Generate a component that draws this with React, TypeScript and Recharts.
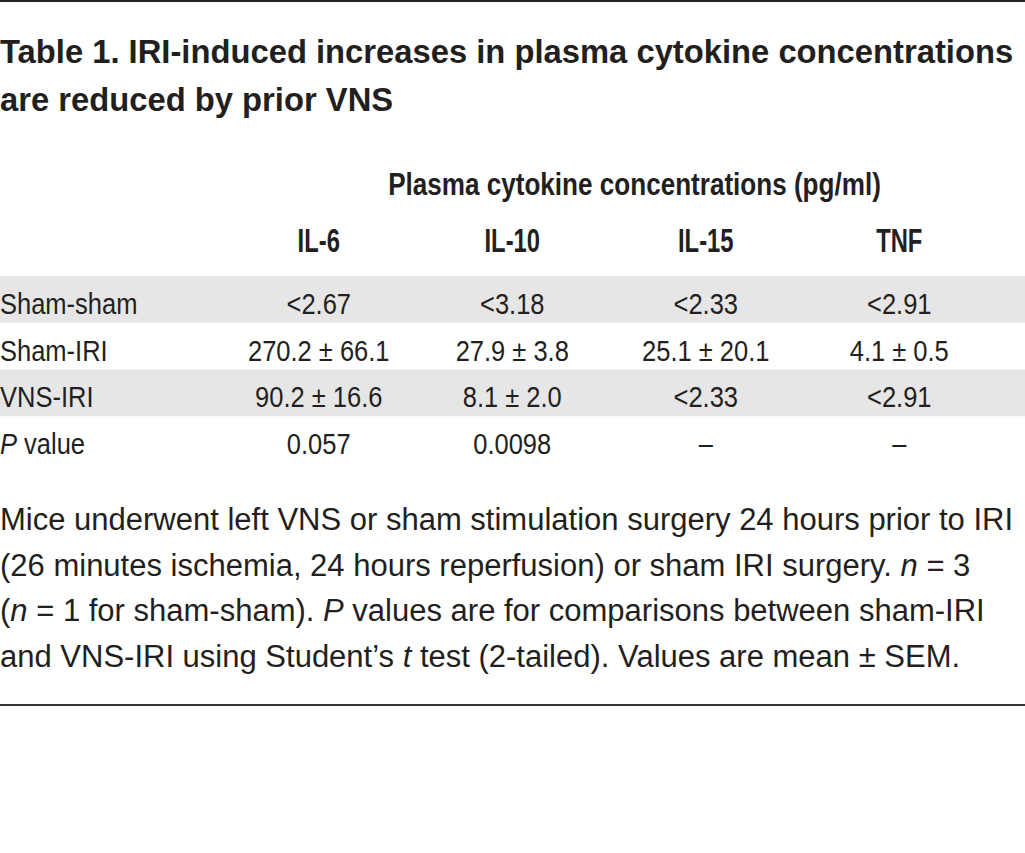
import { ScatterChart, Scatter, XAxis, YAxis, ReferenceArea } from "recharts";

const groups = ["Sham-sham", "Sham-IRI", "VNS-IRI", "P value"];
const cytokines = ["IL-6", "IL-10", "IL-15", "TNF"];
const il6 = ["<2.67", "270.2 ± 66.1", "90.2 ± 16.6", "0.057"];
const il10 = ["<3.18", "27.9 ± 3.8", "8.1 ± 2.0", "0.0098"];
const il15 = ["<2.33", "25.1 ± 20.1", "<2.33", "–"];
const tnf = ["<2.91", "4.1 ± 0.5", "<2.91", "–"];
const shadedGroups = ["Sham-sham", "VNS-IRI"];

const columns = [il6, il10, il15, tnf];
const cells = cytokines.flatMap((cytokine, i) =>
  groups.map((group, j) => ({ cytokine, group, text: columns[i][j] }))
);

const ink = "#231f20";
const font = "'Liberation Sans', Arial, sans-serif";
const CHART_W = 1025;

// condensed look: Liberation Sans squeezed horizontally
const CellText = (props: any) => (
  <text
    transform={`translate(${props.cx} ${props.cy}) scale(0.85 1)`}
    dy="0.48em"
    textAnchor="middle"
    fontFamily={font}
    fontSize={30}
    fill={ink}
  >
    {props.payload.text}
  </text>
);

const GroupTick = ({ x, y, payload }: any) => {
  const label: string = payload.value;
  const italicP = label.startsWith("P ");
  return (
    <text
      transform={`translate(${x} ${y}) scale(0.85 1)`}
      dy="0.48em"
      textAnchor="start"
      fontFamily={font}
      fontSize={30}
      fill={ink}
    >
      {italicP ? (
        <>
          <tspan fontStyle="italic">P</tspan>
          {label.slice(1)}
        </>
      ) : (
        label
      )}
    </text>
  );
};

const CytokineTick = ({ x, y, payload }: any) => (
  <text
    transform={`translate(${x} ${y - 24}) scale(0.7 1)`}
    textAnchor="middle"
    fontFamily={font}
    fontWeight="bold"
    fontSize={34}
    fill={ink}
  >
    {payload.value}
  </text>
);

const SpanLabel = ({ viewBox }: any) => (
  <text
    transform={`translate(${viewBox.x + viewBox.width / 2 + 122} ${viewBox.y + 45}) scale(0.815 1)`}
    textAnchor="middle"
    fontFamily={font}
    fontWeight="bold"
    fontSize={32}
    fill={ink}
  >
    Plasma cytokine concentrations (pg/ml)
  </text>
);

const Stripe = (props: any) => (
  <rect x={0} y={props.y} width={CHART_W} height={props.height} fill="#e6e6e6" />
);

export default function App() {
  return (
    <div
      style={{
        position: "absolute",
        left: 0,
        top: 0,
        width: 1025,
        height: 853,
        background: "#fff",
        color: ink,
        fontFamily: font,
      }}
    >
      <div style={{ position: "absolute", left: 0, top: 0, width: 1025, height: 2, background: "#222" }} />
      <div
        style={{
          position: "absolute",
          left: 0,
          top: 28,
          width: 1025,
          fontWeight: "bold",
          fontSize: 32.75,
          lineHeight: "48px",
          whiteSpace: "nowrap",
        }}
      >
        Table 1. IRI-induced increases in plasma cytokine concentrations
        <br />
        are reduced by prior VNS
      </div>

      <div style={{ position: "absolute", left: 0, top: 150 }}>
        <ScatterChart width={CHART_W} height={313} margin={{ top: 0, right: 0, bottom: 0, left: 0 }}>
          <XAxis
            dataKey="cytokine"
            type="category"
            orientation="top"
            allowDuplicatedCategory={false}
            height={126}
            padding={{ left: 222, right: 29 }}
            axisLine={false}
            tickLine={false}
            tickSize={0}
            tickMargin={0}
            tick={<CytokineTick />}
            label={{ content: <SpanLabel /> }}
          />
          <YAxis
            dataKey="group"
            type="category"
            allowDuplicatedCategory={false}
            reversed
            mirror
            axisLine={false}
            tickLine={false}
            tickSize={0}
            tickMargin={0}
            tick={<GroupTick />}
          />
          {shadedGroups.map((g) => (
            <ReferenceArea
              key={g}
              x1={cytokines[0]}
              x2={cytokines[cytokines.length - 1]}
              y1={g}
              y2={g}
              ifOverflow="visible"
              shape={<Stripe />}
            />
          ))}
          <Scatter data={cells} shape={<CellText />} isAnimationActive={false} />
        </ScatterChart>
      </div>

      <div
        style={{
          position: "absolute",
          left: 0,
          top: 497,
          width: 1025,
          fontSize: 31,
          lineHeight: "45.7px",
          whiteSpace: "nowrap",
        }}
      >
        Mice underwent left VNS or sham stimulation surgery 24 hours prior to IRI
        <br />
        (26 minutes ischemia, 24 hours reperfusion) or sham IRI surgery. <i>n</i> = 3
        <br />
        (<i>n</i> = 1 for sham-sham). <i>P</i> values are for comparisons between sham-IRI
        <br />
        and VNS-IRI using Student’s <i>t</i> test (2-tailed). Values are mean ± SEM.
      </div>
      <div style={{ position: "absolute", left: 0, top: 704, width: 1025, height: 2, background: "#333" }} />
    </div>
  );
}
